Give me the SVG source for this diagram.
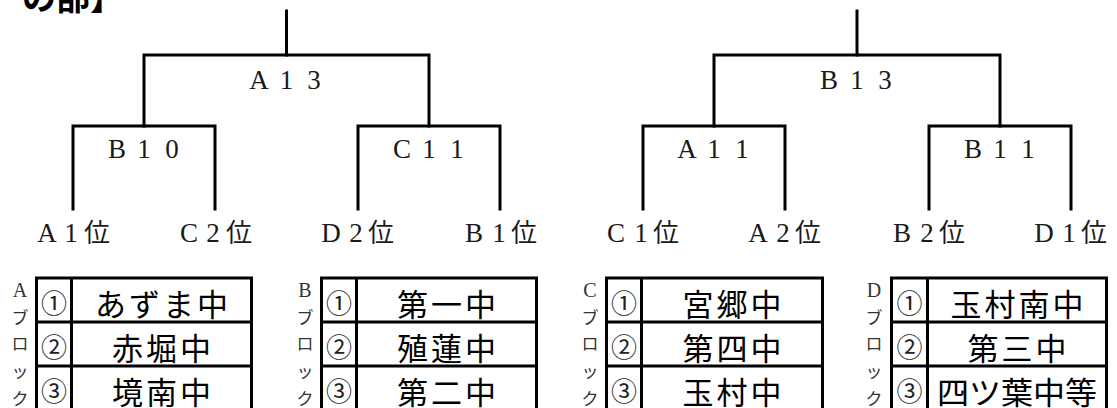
<svg xmlns="http://www.w3.org/2000/svg" width="1117" height="408" viewBox="0 0 1117 408">
<style>
.ln{fill:none;stroke:#000;stroke-width:3;stroke-linejoin:miter;stroke-linecap:square}
.tb{fill:none;stroke:#000;stroke-width:3}
.lat{font-family:"Liberation Serif","Noto Sans CJK JP",serif;font-size:27px;fill:#1a1a1a;text-anchor:middle}
.cjk{font-family:"Noto Sans CJK JP",sans-serif;fill:#1a1a1a;text-anchor:middle}
.pos{font-size:26px}
.num{font-family:"Noto Sans CJK JP",sans-serif;font-size:26px;fill:#222;text-anchor:middle;dominant-baseline:central}
.nm{font-family:"Noto Sans CJK JP",sans-serif;font-size:31px;letter-spacing:3px;fill:#000;text-anchor:middle;dominant-baseline:central}
.vl{font-family:"Liberation Serif","Noto Sans CJK JP",serif;font-size:20px;fill:#333;text-anchor:middle}
.vk{font-family:"Noto Sans CJK JP",sans-serif;font-size:17px;fill:#333;text-anchor:middle;dominant-baseline:central}
.ttl{font-family:"Noto Sans CJK JP",sans-serif;font-size:34px;font-weight:bold;fill:#000}
</style>
<g id="title"><text class="ttl" x="22" y="10">の部】</text></g>
<g id="connectors">
<path class="ln" d="M286.5,11 V55"/>
<path class="ln" d="M144,126 V55 H429 V126"/>
<path class="ln" d="M73,209 V126 H215 V209"/>
<path class="ln" d="M358,209 V126 H500 V209"/>
<path class="ln" d="M857,11 V55"/>
<path class="ln" d="M714,126 V55 H1000 V126"/>
<path class="ln" d="M643,209 V126 H785 V209"/>
<path class="ln" d="M929,209 V126 H1071 V209"/>
</g>
<g id="match-A13"><text class="lat" x="259 286.5 314" y="89">A13</text></g>
<g id="match-B13"><text class="lat" x="829 857 885" y="89">B13</text></g>
<g id="match-B10"><text class="lat" x="117 144 172" y="158">B10</text></g>
<g id="match-C11"><text class="lat" x="402 429 457" y="158">C11</text></g>
<g id="match-A11"><text class="lat" x="687 714 742" y="158">A11</text></g>
<g id="match-B11"><text class="lat" x="973 1000 1028" y="158">B11</text></g>
<g id="seed-A1"><text class="lat" x="47 71" y="242">A1</text><text class="cjk pos" x="97" y="242">位</text></g>
<g id="seed-C2"><text class="lat" x="189 213" y="242">C2</text><text class="cjk pos" x="239" y="242">位</text></g>
<g id="seed-D2"><text class="lat" x="331 356" y="242">D2</text><text class="cjk pos" x="381" y="242">位</text></g>
<g id="seed-B1"><text class="lat" x="474 499" y="242">B1</text><text class="cjk pos" x="524" y="242">位</text></g>
<g id="seed-C1"><text class="lat" x="616 641" y="242">C1</text><text class="cjk pos" x="666" y="242">位</text></g>
<g id="seed-A2"><text class="lat" x="758 783" y="242">A2</text><text class="cjk pos" x="808" y="242">位</text></g>
<g id="seed-B2"><text class="lat" x="902 927" y="242">B2</text><text class="cjk pos" x="952" y="242">位</text></g>
<g id="seed-D1"><text class="lat" x="1044 1069" y="242">D1</text><text class="cjk pos" x="1094" y="242">位</text></g>
<g id="block-A">
<rect class="tb" x="36.5" y="278" width="215" height="140"/>
<path class="tb" d="M71.5,278 V420 M36.5,322 H251.5 M36.5,366 H251.5"/>
<text class="vl" x="20" y="297">A</text>
<text class="vk" x="20" y="316">ブ</text><text class="vk" x="20" y="342">ロ</text><text class="vk" x="20" y="370">ッ</text><text class="vk" x="20" y="397">ク</text>
<text class="num" x="54" y="301">①</text><text class="num" x="54" y="345">②</text><text class="num" x="54" y="389">③</text>
<text class="nm" x="163" y="302">あずま中</text><text class="nm" x="163" y="346">赤堀中</text><text class="nm" x="163" y="390">境南中</text>
</g>
<g id="block-B">
<rect class="tb" x="321.5" y="278" width="215" height="140"/>
<path class="tb" d="M356.5,278 V420 M321.5,322 H536.5 M321.5,366 H536.5"/>
<text class="vl" x="305" y="297">B</text>
<text class="vk" x="305" y="316">ブ</text><text class="vk" x="305" y="342">ロ</text><text class="vk" x="305" y="370">ッ</text><text class="vk" x="305" y="397">ク</text>
<text class="num" x="339" y="301">①</text><text class="num" x="339" y="345">②</text><text class="num" x="339" y="389">③</text>
<text class="nm" x="448" y="302">第一中</text><text class="nm" x="448" y="346">殖蓮中</text><text class="nm" x="448" y="390">第二中</text>
</g>
<g id="block-C">
<rect class="tb" x="606.5" y="278" width="216" height="140"/>
<path class="tb" d="M641.5,278 V420 M606.5,322 H822.5 M606.5,366 H822.5"/>
<text class="vl" x="590" y="297">C</text>
<text class="vk" x="590" y="316">ブ</text><text class="vk" x="590" y="342">ロ</text><text class="vk" x="590" y="370">ッ</text><text class="vk" x="590" y="397">ク</text>
<text class="num" x="624" y="301">①</text><text class="num" x="624" y="345">②</text><text class="num" x="624" y="389">③</text>
<text class="nm" x="733.5" y="302">宮郷中</text><text class="nm" x="733.5" y="346">第四中</text><text class="nm" x="733.5" y="390">玉村中</text>
</g>
<g id="block-D">
<rect class="tb" x="891.5" y="278" width="215" height="140"/>
<path class="tb" d="M927.5,278 V420 M891.5,322 H1106.5 M891.5,366 H1106.5"/>
<text class="vl" x="874" y="297">D</text>
<text class="vk" x="874" y="316">ブ</text><text class="vk" x="874" y="342">ロ</text><text class="vk" x="874" y="370">ッ</text><text class="vk" x="874" y="397">ク</text>
<text class="num" x="909.5" y="301">①</text><text class="num" x="909.5" y="345">②</text><text class="num" x="909.5" y="389">③</text>
<text class="nm" x="1018.5" y="302">玉村南中</text><text class="nm" x="1018.5" y="346">第三中</text><text class="nm" x="1017" y="390" style="letter-spacing:0" textLength="160" lengthAdjust="spacingAndGlyphs">四ツ葉中等</text>
</g>
</svg>
